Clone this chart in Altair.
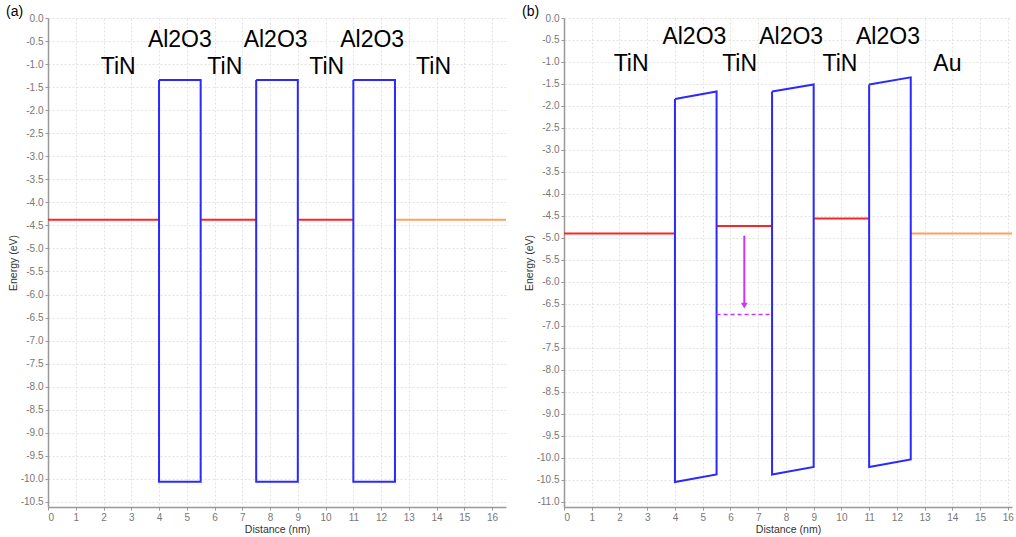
import altair as alt
import pandas as pd

# ---------------- panel (a) data ----------------
A_LEVEL_X0 = [0, 5.5, 9, 12.5]
A_LEVEL_X1 = [4, 7.5, 11, 16.5]
A_LEVEL_E = [-4.38, -4.38, -4.38, -4.38]
A_LEVEL_COLOR = ["#ff2424", "#ff2424", "#ff2424", "#ffa060"]

A_BAR_X0 = [4, 7.5, 11]
A_BAR_X1 = [5.5, 9, 12.5]
A_BAR_TOP0 = [-1.345, -1.345, -1.345]
A_BAR_TOP1 = [-1.345, -1.345, -1.345]
A_BAR_BOT0 = [-10.06, -10.06, -10.06]
A_BAR_BOT1 = [-10.06, -10.06, -10.06]

A_LABELS = ["TiN", "Al2O3", "TiN", "Al2O3", "TiN", "Al2O3", "TiN"]
A_LABEL_X = [2.53, 4.75, 6.37, 8.2, 10.04, 11.68, 13.89]
A_LABEL_Y = [-1.06, -0.48, -1.06, -0.48, -1.06, -0.48, -1.06]

A_XMAX = 16.5
A_YMIN = -10.61

# ---------------- panel (b) data ----------------
B_LEVEL_X0 = [0, 5.5, 9, 12.5]
B_LEVEL_X1 = [4, 7.5, 11, 16.15]
B_LEVEL_E = [-4.90, -4.73, -4.56, -4.90]
B_LEVEL_COLOR = ["#ff2424", "#ff2424", "#ff2424", "#ffa060"]

B_BAR_X0 = [4, 7.5, 11]
B_BAR_X1 = [5.5, 9, 12.5]
B_BAR_TOP0 = [-1.84, -1.67, -1.51]
B_BAR_TOP1 = [-1.67, -1.51, -1.35]
B_BAR_BOT0 = [-10.55, -10.38, -10.21]
B_BAR_BOT1 = [-10.38, -10.21, -10.04]

B_LABELS = ["TiN", "Al2O3", "TiN", "Al2O3", "TiN", "Al2O3", "Au"]
B_LABEL_X = [2.42, 4.7, 6.33, 8.19, 9.95, 11.68, 13.82]
B_LABEL_Y = [-1.05, -0.44, -1.05, -0.44, -1.05, -0.44, -1.05]

B_TRAP_X0 = [5.5]
B_TRAP_X1 = [7.5]
B_TRAP_E = [-6.74]
B_ARROW_X = [6.5]
B_ARROW_FROM = [-4.95]
B_ARROW_TO = [-6.5]
B_ARROW_HEAD = [-6.54]

B_XMAX = 16.15
B_YMIN = -11.12

X_TICKS = list(range(0, 17))
A_Y_TICKS = [round(-0.5 * k, 1) for k in range(0, 22)]
B_Y_TICKS = [round(-0.5 * k, 1) for k in range(0, 23)]

FONT = "Liberation Sans"
PURPLE = "#cc33ff"
BLUE = "#2a2aff"


def barrier_frame(x0, x1, t0, t1, b0, b1):
    rows = []
    for i in range(len(x0)):
        pts = [(x0[i], t0[i]), (x1[i], t1[i]), (x1[i], b1[i]), (x0[i], b0[i]), (x0[i], t0[i])]
        for k, (x, y) in enumerate(pts):
            rows.append({"bar": i, "ord": k, "x": x, "y": y})
    return pd.DataFrame(rows)


def panel(title, width, lx0, lx1, le, lcol, bars, labs, lxs, lys, xmax, ymin, yticks, extra=None):
    xs = alt.Scale(domain=[0, xmax], nice=False, zero=False)
    ys = alt.Scale(domain=[ymin, 0], nice=False, zero=False)
    xax = alt.Axis(values=X_TICKS, format="d", title="Distance (nm)", grid=True)
    yax = alt.Axis(values=yticks, title="Energy (eV)", grid=True,
                   labelExpr="(datum.value < 0 ? '-' : '') + format(abs(datum.value), '.1f')")

    lev = pd.DataFrame({"x0": lx0, "x1": lx1, "e": le, "c": lcol})
    levels = alt.Chart(lev).mark_rule(strokeWidth=2, clip=True).encode(
        x=alt.X("x0:Q", scale=xs, axis=xax),
        x2="x1:Q",
        y=alt.Y("e:Q", scale=ys, axis=yax),
        color=alt.Color("c:N", scale=None),
    )
    bdf = barrier_frame(*bars)
    barrier = alt.Chart(bdf).mark_line(color=BLUE, strokeWidth=2, clip=True).encode(
        x=alt.X("x:Q", scale=xs, axis=xax),
        y=alt.Y("y:Q", scale=ys, axis=yax),
        detail="bar:N",
        order="ord:Q",
    )
    ldf = pd.DataFrame({"t": labs, "x": lxs, "y": lys})
    text = alt.Chart(ldf).mark_text(font=FONT, fontSize=23, color="black", baseline="middle").encode(
        x=alt.X("x:Q", scale=xs, axis=xax),
        y=alt.Y("y:Q", scale=ys, axis=yax),
        text="t:N",
    )
    layers = [levels, barrier, text]
    if extra is not None:
        layers += extra(xs, ys, xax, yax)
    return alt.layer(*layers).properties(
        width=width,
        height=489,
        title=alt.TitleParams(title, anchor="start", frame="group", dx=-42, fontSize=14,
                              font=FONT, fontWeight="normal", color="black", offset=-6),
    )


def trap_layers(xs, ys, xax, yax):
    tdf = pd.DataFrame({"x0": B_TRAP_X0, "x1": B_TRAP_X1, "e": B_TRAP_E})
    trap = alt.Chart(tdf).mark_rule(color=PURPLE, strokeWidth=1.5, strokeDash=[4, 3]).encode(
        x=alt.X("x0:Q", scale=xs, axis=xax), x2="x1:Q",
        y=alt.Y("e:Q", scale=ys, axis=yax),
    )
    adf = pd.DataFrame({"x": B_ARROW_X, "y0": B_ARROW_FROM, "y1": B_ARROW_TO, "h": B_ARROW_HEAD})
    shaft = alt.Chart(adf).mark_rule(color=PURPLE, strokeWidth=2).encode(
        x=alt.X("x:Q", scale=xs, axis=xax),
        y=alt.Y("y0:Q", scale=ys, axis=yax), y2="y1:Q",
    )
    head = alt.Chart(adf).mark_point(shape="triangle-down", filled=True, color=PURPLE,
                                     size=45, opacity=1).encode(
        x=alt.X("x:Q", scale=xs, axis=xax),
        y=alt.Y("h:Q", scale=ys, axis=yax),
    )
    return [trap, shaft, head]


pa = panel("(a)", 458, A_LEVEL_X0, A_LEVEL_X1, A_LEVEL_E, A_LEVEL_COLOR,
           (A_BAR_X0, A_BAR_X1, A_BAR_TOP0, A_BAR_TOP1, A_BAR_BOT0, A_BAR_BOT1),
           A_LABELS, A_LABEL_X, A_LABEL_Y, A_XMAX, A_YMIN, A_Y_TICKS)
pb = panel("(b)", 448, B_LEVEL_X0, B_LEVEL_X1, B_LEVEL_E, B_LEVEL_COLOR,
           (B_BAR_X0, B_BAR_X1, B_BAR_TOP0, B_BAR_TOP1, B_BAR_BOT0, B_BAR_BOT1),
           B_LABELS, B_LABEL_X, B_LABEL_Y, B_XMAX, B_YMIN, B_Y_TICKS, extra=trap_layers)

chart = alt.hconcat(pa, pb, spacing=58, bounds="flush").properties(
    padding={"left": 6, "top": 5, "right": 0, "bottom": 0},
    background="white",
).configure_axis(
    labelFont=FONT, labelFontSize=10, labelColor="#777",
    titleFont=FONT, titleFontSize=10.5, titleColor="#333", titleFontWeight="normal",
    gridColor="#e2e2e2", gridDash=[2, 2], gridWidth=1,
    domainColor="#999", domainWidth=1.5, tickColor="#999", tickSize=3, labelPadding=2,
    titlePadding=2,
).configure_view(stroke=None)

chart.save("out.html", embed_options={"renderer": "svg", "actions": False})
